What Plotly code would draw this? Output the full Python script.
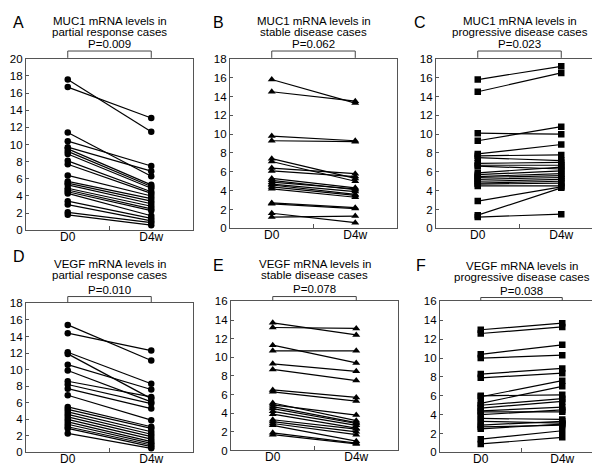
import plotly.graph_objects as go

# paired mRNA levels, day 0 vs week 4
a_d0 = [17.6, 16.7, 11.4, 10.4, 9.7, 9.5, 9.2, 8.9, 8.1, 7.7, 6.4, 5.7, 5.5, 5.3, 4.9, 4.7, 4.5, 4.3, 3.4, 3.0, 2.1, 1.8]
a_d4w = [11.5, 13.1, 6.3, 7.5, 6.9, 5.3, 5.1, 4.9, 4.5, 4.3, 4.0, 3.7, 3.4, 3.1, 2.8, 2.5, 2.3, 1.7, 1.4, 1.1, 0.9, 0.6]

b_d0 = [15.8, 14.5, 9.8, 9.3, 7.4, 7.1, 6.4, 6.1, 5.3, 5.1, 4.9, 4.7, 4.6, 4.4, 4.2, 2.7, 2.6, 1.6, 1.2]
b_d4w = [13.3, 13.5, 9.3, 9.2, 5.3, 5.0, 5.8, 5.5, 4.3, 4.1, 4.2, 3.9, 3.6, 3.5, 3.3, 2.2, 2.1, 0.6, 1.3]

c_d0 = [15.8, 14.5, 10.1, 9.3, 7.9, 7.7, 7.5, 6.9, 6.7, 6.6, 5.9, 5.7, 5.5, 5.4, 5.2, 5.0, 4.8, 4.7, 4.5, 2.9, 1.4, 1.2]
c_d4w = [17.2, 16.5, 10.0, 10.8, 8.9, 7.8, 7.2, 7.0, 6.7, 6.3, 6.5, 6.1, 5.8, 5.6, 5.4, 5.2, 5.0, 4.8, 4.5, 4.4, 4.3, 1.5]

d_d0 = [15.4, 14.4, 12.1, 11.9, 10.6, 9.9, 8.6, 8.2, 7.7, 6.9, 5.5, 5.2, 4.9, 4.6, 4.3, 4.0, 3.7, 3.4, 3.1, 2.9, 2.3]
d_d4w = [11.1, 12.3, 8.3, 6.5, 7.6, 6.1, 6.7, 5.9, 5.3, 3.9, 3.1, 2.9, 2.5, 2.2, 1.9, 1.6, 1.3, 1.1, 0.9, 0.7, 0.5]

e_d0 = [13.7, 13.2, 11.3, 10.7, 9.3, 8.7, 6.5, 6.3, 5.1, 4.9, 4.7, 4.5, 4.2, 3.9, 3.3, 3.1, 2.9, 2.7, 1.9, 1.7]
e_d4w = [12.4, 13.1, 9.4, 10.7, 8.5, 7.5, 5.7, 5.3, 3.2, 3.8, 3.0, 2.9, 2.7, 2.4, 2.3, 2.0, 1.7, 1.0, 0.8, 0.7]

f_d0 = [13.0, 12.6, 10.4, 10.0, 8.3, 7.9, 5.9, 5.2, 6.0, 5.0, 4.7, 4.4, 4.3, 4.0, 3.6, 3.3, 2.9, 2.7, 2.5, 1.4, 0.9]
f_d4w = [13.7, 13.3, 11.4, 10.3, 8.9, 8.4, 7.6, 7.0, 6.1, 5.7, 5.4, 4.8, 4.3, 4.5, 3.5, 3.1, 3.3, 2.9, 3.0, 2.3, 1.6]

letters = ["A", "B", "C", "D", "E", "F"]
titles = [
    "MUC1 mRNA levels in<br>partial response cases",
    "MUC1 mRNA levels in<br>stable disease cases",
    "MUC1 mRNA levels in<br>progressive disease cases",
    "VEGF mRNA levels in<br>partial response cases",
    "VEGF mRNA levels in<br>stable disease cases",
    "VEGF mRNA levels in<br>progressive disease cases",
]
pvals = ["P=0.009", "P=0.062", "P=0.023", "P=0.010", "P=0.078", "P=0.038"]
ymax = [20, 18, 18, 18, 16, 16]
groups = ["D0", "D4w"]

pairs = [(a_d0, a_d4w), (b_d0, b_d4w), (c_d0, c_d4w), (d_d0, d_d4w), (e_d0, e_d4w), (f_d0, f_d4w)]
symbols = ["circle", "triangle-up", "square", "circle", "triangle-up", "square"]

W, H = 600, 467
# plot boxes in pixels: left, right, top, bottom
boxes = [
    (18, 185, 46, 222), (222, 389, 46, 220), (428, 595, 46, 220),
    (18, 185, 297, 450), (223, 390, 295, 448), (432, 595, 295, 450),
]
# pixel positions: letter x, letter y, title line 1 y, title line 2 y, p value y, bracket top y
texty = [
    (3, 9, 7, 18, 31, 38), (203, 9, 7, 18, 31, 38), (404, 9, 7, 18, 31, 38),
    (3, 249, 257, 268, 283, 290), (203, 258, 257, 268, 282, 290), (406, 258, 259, 270, 284, 291),
]

FONT = "Liberation Sans, Arial, sans-serif"
fig = go.Figure()
annotations = []
shapes = []

for i, (d0, d4) in enumerate(pairs):
    sfx = "" if i == 0 else str(i + 1)
    xs, ys = [], []
    for v0, v1 in zip(d0, d4):
        xs += [groups[0], groups[1], None]
        ys += [v0, v1, None]
    fig.add_trace(go.Scatter(
        x=xs, y=ys, mode="lines+markers",
        line=dict(color="black", width=1.2),
        marker=dict(symbol=symbols[i], size=6.5 if symbols[i] != "triangle-up" else 7, color="black"),
        xaxis=f"x{sfx}", yaxis=f"y{sfx}", showlegend=False, hoverinfo="skip",
    ))

    l, r, t, b = boxes[i]
    dom_x = [l / W, r / W]
    dom_y = [1 - b / H, 1 - t / H]
    fig.layout[f"xaxis{sfx}"] = dict(
        domain=dom_x, anchor=f"y{sfx}", type="category", categoryorder="array",
        categoryarray=groups, range=[-0.5, 1.5], tickson="boundaries",
        ticks="inside", ticklen=4, tickcolor="#555", showline=True, mirror=True,
        linecolor="#555", linewidth=1.2, showgrid=False, zeroline=False,
        ticklabelstandoff=-5,
        tickfont=dict(family=FONT, size=12, color="black"),
    )
    fig.layout[f"yaxis{sfx}"] = dict(
        domain=dom_y, anchor=f"x{sfx}", range=[0, ymax[i]], dtick=2,
        ticks="inside", ticklen=3, tickcolor="#555", showline=True, mirror=True,
        linecolor="#555", linewidth=1.2, showgrid=False, zeroline=False,
        tickfont=dict(family=FONT, size=11.5, color="black"),
    )

    lx, ly, t1, t2, py, by = texty[i]
    cx = (l + r) / 2 / W
    annotations.append(dict(text=letters[i], x=lx / W, y=1 - ly / H,
                            xref="paper", yref="paper", showarrow=False, xanchor="left", yanchor="middle",
                            font=dict(family=FONT, size=16, color="black")))
    line1, line2 = titles[i].split("<br>")
    for txt, ty in [(line1, t1), (line2, t2)]:
        annotations.append(dict(text=txt, x=cx, y=1 - ty / H, xref="paper", yref="paper",
                                showarrow=False, xanchor="center", yanchor="middle", borderpad=0,
                                font=dict(family=FONT, size=11.5, color="black")))
    annotations.append(dict(text=pvals[i], x=0.5, y=1 - py / H, xref=f"x{sfx} domain", yref="paper",
                            showarrow=False, xanchor="center", yanchor="middle", borderpad=0,
                            font=dict(family=FONT, size=11.5, color="black")))
    # bracket joining the two groups
    for x0, y0, x1, y1 in [(0, by, 0, t - 1), (1, by, 1, t - 1), (0, by, 1, by)]:
        shapes.append(dict(type="line", xref=f"x{sfx}", yref="paper",
                           x0=x0, x1=x1, y0=1 - y0 / H, y1=1 - y1 / H,
                           line=dict(color="#444", width=1)))

fig.update_layout(
    width=W, height=H, margin=dict(l=0, r=0, t=0, b=0),
    paper_bgcolor="white", plot_bgcolor="white",
    annotations=annotations, shapes=shapes,
)

fig.write_html("out.html")
